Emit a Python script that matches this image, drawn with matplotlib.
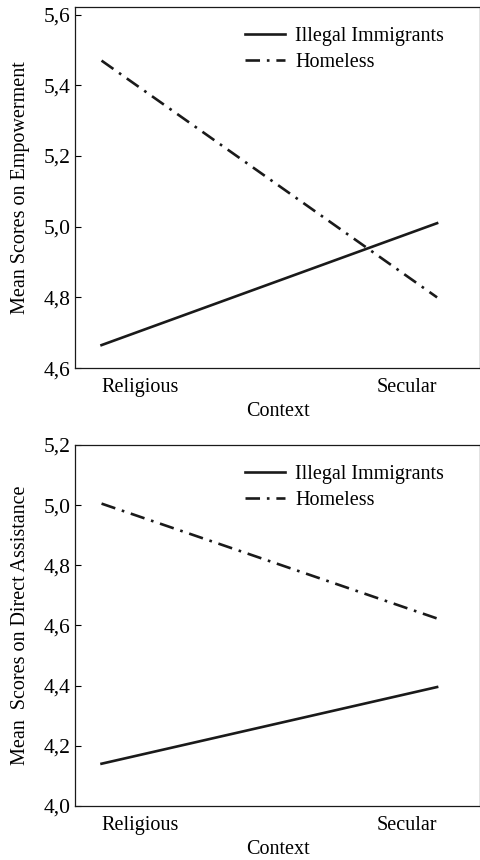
import matplotlib
matplotlib.use("Agg")
import matplotlib.pyplot as plt

plt.rcParams["font.family"] = ["Liberation Serif", "DejaVu Serif"]

# ---- data ----
contexts = ["Religious", "Secular"]
series_names = ["Illegal Immigrants", "Homeless"]

empower_illegal = [4.665, 5.01]
empower_homeless = [5.47, 4.80]

direct_illegal = [4.14, 4.395]
direct_homeless = [5.005, 4.623]

empower_ticks = [4.6, 4.8, 5.0, 5.2, 5.4, 5.6]
direct_ticks = [4.0, 4.2, 4.4, 4.6, 4.8, 5.0, 5.2]

DASHDOT = (0, (5.5, 2.6, 1.0, 2.6))


def draw_panel(ax, illegal, homeless, ticks, ylim, ylabel):
    x = range(len(contexts))
    ax.plot(x, illegal, color="#1a1a1a", lw=1.9, linestyle="-", label=series_names[0])
    ax.plot(x, homeless, color="#1a1a1a", lw=1.9, linestyle=DASHDOT, label=series_names[1])
    ax.set_xlim(-0.079, 1.128)
    ax.set_ylim(*ylim)
    ax.set_yticks(ticks)
    ax.set_yticklabels([f"{t:.1f}".replace(".", ",") for t in ticks], fontsize=15.5)
    ax.tick_params(axis="y", direction="in", length=4, width=0.8, pad=3)
    ax.set_xticks([0, 1])
    ax.set_xticklabels(contexts, fontsize=14.5)
    ax.tick_params(axis="x", length=0, pad=7)
    ax.get_xticklabels()[0].set_ha("left")
    ax.get_xticklabels()[1].set_ha("right")
    for s in ax.spines.values():
        s.set_linewidth(0.9)
        s.set_color("#1a1a1a")
    ax.set_xlabel("Context", fontsize=14.5, labelpad=4)
    ax.set_ylabel(ylabel, fontsize=14.5, labelpad=10)
    ax.legend(loc="upper left", bbox_to_anchor=(0.40, 0.968), frameon=False,
              fontsize=14.5, handlelength=2.0, handletextpad=0.5,
              labelspacing=0.38, borderaxespad=0)


fig = plt.figure(figsize=(4.81, 8.6), dpi=100)
ax1 = fig.add_axes([0.156, 0.572, 0.842, 0.420])
ax2 = fig.add_axes([0.156, 0.063, 0.842, 0.4196])

draw_panel(ax1, empower_illegal, empower_homeless, empower_ticks, (4.6, 5.622),
           "Mean Scores on Empowerment")
draw_panel(ax2, direct_illegal, direct_homeless, direct_ticks, (4.0, 5.2),
           "Mean  Scores on Direct Assistance")

fig.savefig("out.png", dpi=100)
